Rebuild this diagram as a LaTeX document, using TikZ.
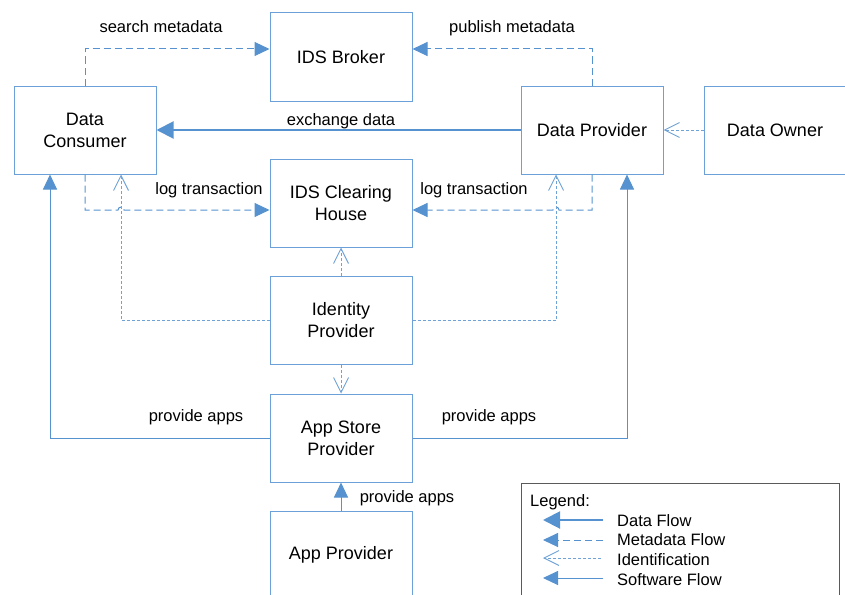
\documentclass[tikz,border=0pt]{standalone}
\usepackage{fontspec}
\setmainfont{Liberation Sans}
\usetikzlibrary{arrows.meta}
\definecolor{flow}{RGB}{86,146,207}
\definecolor{boxc}{RGB}{108,160,216}
\definecolor{leggray}{RGB}{90,90,90}
\begin{document}
\begin{tikzpicture}[x=1pt,y=-1pt,
  box/.style={draw=boxc, line width=1pt, minimum width=142pt, minimum height=88pt, inner sep=0pt, align=center, font=\fontsize{18}{22}\selectfont},
  lbl/.style={font=\fontsize{16.5}{20}\selectfont, anchor=base, inner sep=0pt},
  legtxt/.style={font=\fontsize{16.5}{20}\selectfont, anchor=base west, inner sep=0pt},
  dataflow/.style={draw=flow, line width=2pt, -{Triangle[length=17pt,width=17pt]}},
  metaflow/.style={draw=flow, line width=1pt, dash pattern=on 7pt off 4pt, -{Triangle[length=15pt,width=14pt]}},
  idflow/.style={draw=flow!85, line width=0.9pt, dash pattern=on 3pt off 2pt, -{Straight Barb[length=15pt,width=15pt]}},
  softflow/.style={draw=flow, line width=1pt, -{Triangle[length=15pt,width=14pt]}}
]
\useasboundingbox (0,0) rectangle (845,594);
\begin{scope}
\clip (0,0) rectangle (845,594);
% boxes
\node[box] (broker) at (341,57) {IDS Broker};
\node[box] (cons) at (85,130) {Data\\Consumer};
\node[box] (clear) at (341,203) {IDS Clearing\\House};
\node[box] (idp) at (341,320) {Identity\\Provider};
\node[box] (store) at (341,438) {App Store\\Provider};
\node[box] (app) at (341,555) {App Provider};
\node[box] (prov) at (592,130) {Data Provider};
\node[box] (owner) at (775,130) {Data Owner};

% metadata flows
\draw[metaflow] (cons.north) |- ([yshift=8pt]broker.west);
\draw[metaflow] (prov.north) |- ([yshift=8pt]broker.east);
\coordinate (hl) at (118,210);
\coordinate (hr) at (559,210);
\draw[metaflow] (cons.south) |- (hl) arc[start angle=180,end angle=0,radius=3pt] -- ([yshift=-7pt]clear.west);
\draw[metaflow] (prov.south) |- (hr) arc[start angle=0,end angle=180,radius=3pt] -- ([yshift=-7pt]clear.east);

% data flow
\draw[dataflow] (prov.west) -- (cons.east);

% identification
\draw[idflow] (owner.west) -- (prov.east);
\draw[idflow] (idp.west) -| ([xshift=36pt]cons.south);
\draw[idflow] (idp.east) -| ([xshift=-36pt]prov.south);
\draw[idflow] (idp.north) -- (clear.south);
\draw[idflow] (idp.south) -- (store.north);

% software flows
\draw[softflow] (store.west) -| ([xshift=-35pt]cons.south);
\draw[softflow] (store.east) -| ([xshift=35pt]prov.south);
\draw[softflow] (app.north) -- (store.south);

% labels
\node[lbl] (l1) at (161,32.5) {search metadata};
\node[lbl] (l2) at (512,32.5) {publish metadata};
\node[lbl] (l3) at (341,125.5) {exchange data};
\node[lbl] (l4) at (209,194) {log transaction};
\node[lbl] (l5) at (474,194) {log transaction};
\node[lbl] (l6) at (196,421) {provide apps};
\node[lbl] (l7) at (489,421) {provide apps};
\node[lbl] (l8) at (407,502) {provide apps};

% legend
\node[draw=leggray, line width=1pt, minimum width=318pt, minimum height=120pt, anchor=north west, inner sep=0pt] (legend) at (521,483) {};
\node[legtxt] (lg0) at (530,506.5) {Legend:};
\coordinate (a1s) at (603,520); \coordinate (a1e) at (543,520);
\coordinate (a2s) at (603,540); \coordinate (a2e) at (543,540);
\coordinate (a3s) at (601,558); \coordinate (a3e) at (543,558);
\coordinate (a4s) at (603,578); \coordinate (a4e) at (543,578);
\draw[dataflow, line width=2pt] (a1s) -- (a1e);
\draw[metaflow] (a2s) -- (a2e);
\draw[idflow] (a3s) -- (a3e);
\draw[softflow] (a4s) -- (a4e);
\node[legtxt] (lg1) at (617,526.5) {Data Flow};
\node[legtxt] (lg2) at (617,545.5) {Metadata Flow};
\node[legtxt] (lg3) at (617,565.5) {Identification};
\node[legtxt] (lg4) at (617,585) {Software Flow};
\end{scope}
\end{tikzpicture}
\end{document}
